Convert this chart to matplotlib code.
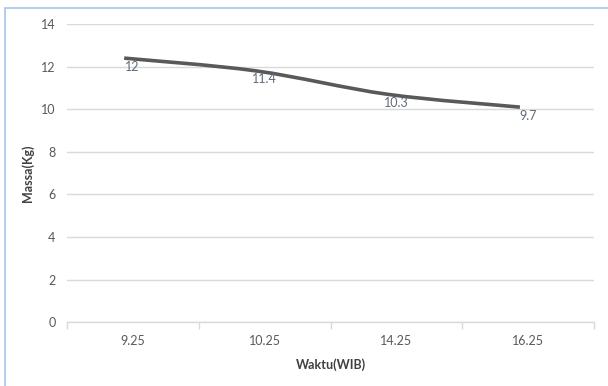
import numpy as np
from matplotlib import pyplot as plt, transforms
from matplotlib.path import Path
from matplotlib.patches import PathPatch, Rectangle

plt.rcParams.update({"font.family": ["Lato", "DejaVu Sans"],
                     "font.size": 9})

# data
waktu = ['9.25', '10.25', '14.25', '16.25']
massa = [12, 11.4, 10.3, 9.7]
y_ticks = [0, 2, 4, 6, 8, 10, 12, 14]

txt_color = '#595959'
grid_color = '#D9D9D9'

fig = plt.figure(figsize=(6.08, 3.86), dpi=100)
ax = fig.add_axes([0.1097, 0.165, 0.8679, 0.7728])

x = np.arange(len(waktu))
y = np.array(massa, dtype=float)

# smoothed line (Excel style), built as cubic bezier pieces
px = np.concatenate([[x[0]], x, [x[-1]]])
py = np.concatenate([[y[0]], y, [y[-1]]])
verts = [(x[0], y[0])]
codes = [Path.MOVETO]
for i in range(1, len(px) - 2):
    c1 = (px[i] + (px[i + 1] - px[i - 1]) / 6, py[i] + (py[i + 1] - py[i - 1]) / 6)
    c2 = (px[i + 1] - (px[i + 2] - px[i]) / 6, py[i + 1] - (py[i + 2] - py[i]) / 6)
    verts += [c1, c2, (px[i + 1], py[i + 1])]
    codes += [Path.CURVE4] * 3

# the line sits a bit up-left of its labels in the original (shadow offset)
shift = transforms.offset_copy(ax.transData, fig=fig, x=-8.5, y=8.5, units='dots')
line = PathPatch(Path(verts, codes), facecolor='none', edgecolor='#595959',
                 lw=2.6, capstyle='butt', transform=shift, zorder=3)
ax.add_patch(line)

for xi, yi, lab in zip(x, y, massa):
    ax.text(xi, yi, f'{lab:g}', ha='center', va='center', color='#5F6B7A',
            fontsize=9, zorder=4)

ax.set_xlim(-0.5, len(waktu) - 0.5)
ax.set_ylim(0, 14)
ax.set_yticks(y_ticks)
ax.set_xticks(x)
ax.set_xticklabels(waktu)
ax.set_xticks(np.arange(-0.5, len(waktu)), minor=True)

ax.grid(axis='y', color=grid_color, lw=1)
ax.set_axisbelow(True)
for s in ['top', 'right', 'left']:
    ax.spines[s].set_visible(False)
ax.spines['bottom'].set_color(grid_color)
ax.spines['bottom'].set_linewidth(1)

ax.tick_params(axis='y', length=0, pad=8, colors=txt_color)
ax.tick_params(axis='x', which='major', length=0, pad=9, colors=txt_color)
ax.tick_params(axis='x', which='minor', length=5, width=1, color=grid_color)

ax.set_xlabel('Waktu(WIB)', fontweight='bold', color='#404040', labelpad=8)
ax.set_ylabel('Massa(Kg)', fontweight='bold', color='#404040', labelpad=5)

# light blue frame around the chart
fig.patches.append(Rectangle((5 / 608, -0.1), 1.2, 1 - 8 / 386 + 0.1,
                             transform=fig.transFigure, fill=False,
                             edgecolor='#A9C4EB', lw=1.2))

fig.savefig('out.png', dpi=100)
